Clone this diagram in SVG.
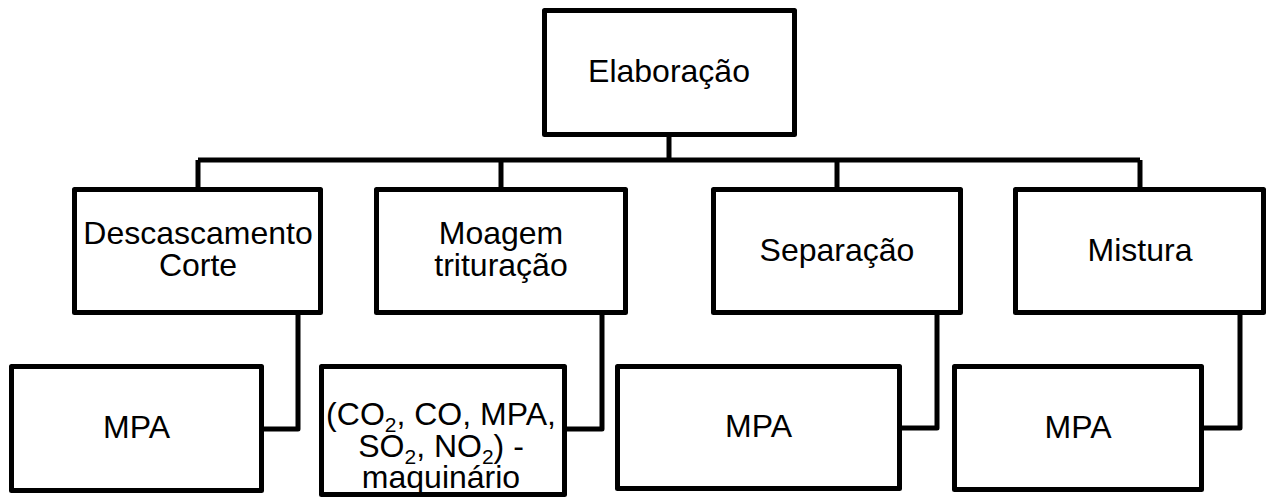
<svg xmlns="http://www.w3.org/2000/svg" width="1267" height="498" viewBox="0 0 1267 498">
  <style>
    .box { fill: #ffffff; stroke: #000000; stroke-width: 5; stroke-linejoin: round; }
    .wire { fill: none; stroke: #000000; stroke-width: 5; stroke-linejoin: round; }
    .label { font-family: "Liberation Sans", Arial, sans-serif; font-size: 32px; fill: #000000; text-anchor: middle; }
    .sub { font-size: 21px; }
  </style>
  <rect width="1267" height="498" fill="#ffffff"/>

  <!-- tree connectors -->
  <g id="connectors">
    <path class="wire" d="M669,136 V160"/>
    <path class="wire" d="M198,160 H1140"/>
    <path class="wire" d="M198,160 V189"/>
    <path class="wire" d="M501,160 V189"/>
    <path class="wire" d="M837,160 V189"/>
    <path class="wire" d="M1140,160 V189"/>
    <path class="wire" d="M298,313 V429 H262"/>
    <path class="wire" d="M602,313 V429 H565"/>
    <path class="wire" d="M937,313 V428 H900"/>
    <path class="wire" d="M1240,313 V428 H1202"/>
  </g>

  <g id="elaboracao">
    <rect class="box" x="544.5" y="10.5" width="250" height="124"/>
    <text class="label" x="669" y="82">Elaboração</text>
  </g>

  <g id="descascamento">
    <rect class="box" x="74.5" y="189.5" width="246" height="123"/>
    <text class="label" x="198" y="244">Descascamento</text>
    <text class="label" x="198" y="276">Corte</text>
  </g>

  <g id="moagem">
    <rect class="box" x="376.5" y="189.5" width="249" height="123"/>
    <text class="label" x="501" y="244">Moagem</text>
    <text class="label" x="501" y="276">trituração</text>
  </g>

  <g id="separacao">
    <rect class="box" x="713.5" y="189.5" width="247" height="123"/>
    <text class="label" x="837" y="261">Separação</text>
  </g>

  <g id="mistura">
    <rect class="box" x="1015.5" y="189.5" width="248" height="123"/>
    <text class="label" x="1140" y="261">Mistura</text>
  </g>

  <g id="mpa-descascamento">
    <rect class="box" x="11.5" y="366.5" width="250" height="124"/>
    <text class="label" x="136.5" y="438">MPA</text>
  </g>

  <g id="emissoes-moagem">
    <rect class="box" x="321.5" y="366.5" width="243" height="128"/>
    <text class="label" x="441" y="425">(CO<tspan class="sub" dy="7">2</tspan><tspan dy="-7">, CO, MPA,</tspan></text>
    <text class="label" x="441" y="457">SO<tspan class="sub" dy="7">2</tspan><tspan dy="-7">, NO</tspan><tspan class="sub" dy="7">2</tspan><tspan dy="-7">) -</tspan></text>
    <text class="label" x="441" y="488">maquinário</text>
  </g>

  <g id="mpa-separacao">
    <rect class="box" x="617.5" y="366.5" width="282" height="122"/>
    <text class="label" x="758.5" y="437">MPA</text>
  </g>

  <g id="mpa-mistura">
    <rect class="box" x="954.5" y="366.5" width="247" height="123"/>
    <text class="label" x="1078" y="438">MPA</text>
  </g>
</svg>
